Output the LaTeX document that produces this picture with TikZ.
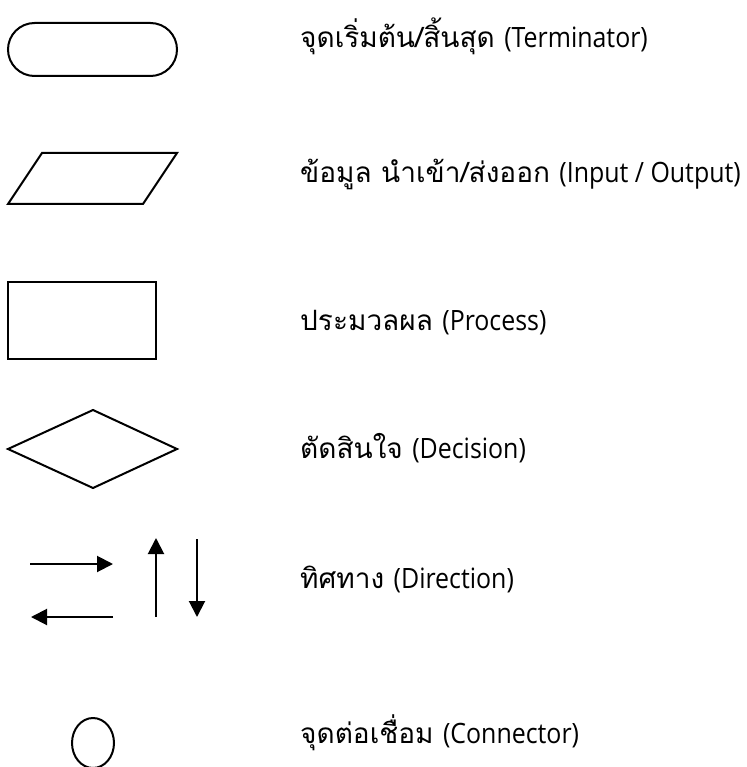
\documentclass[tikz,border=0pt]{standalone}
\usepackage{fontspec}
\newfontfamily\thaifont[Script=Thai]{Loma}
\newfontfamily\latfont[FakeStretch=0.89]{Open Sans}
\usetikzlibrary{arrows.meta}
\begin{document}
\begin{tikzpicture}[x=1pt,y=-1pt,
  shapeline/.style={line width=2pt,line join=miter},
  arrowline/.style={line width=2pt,-{Triangle[length=16pt,width=16pt]}},
  label/.style={anchor=base west,inner sep=0pt,font=\fontsize{28}{34}\selectfont}]
\useasboundingbox (0,0) rectangle (746,767);
% Terminator
\draw[shapeline,rounded corners=26.5pt] (8,23) rectangle (177,76);
% Input/Output
\draw[shapeline] (42,153) -- (177,153) -- (143,204) -- (8,204) -- cycle;
% Process
\draw[shapeline] (8,282) rectangle (156,359);
% Decision
\draw[shapeline] (93,410) -- (177,449) -- (93,488) -- (8,449) -- cycle;
% Direction arrows
\coordinate (r1) at (30,564);  \coordinate (r2) at (113,564);
\coordinate (l1) at (113,617); \coordinate (l2) at (31,617);
\coordinate (u1) at (156,617); \coordinate (u2) at (156,538);
\coordinate (d1) at (197,539); \coordinate (d2) at (197,617);
\draw[arrowline] (r1) -- (r2);
\draw[arrowline] (l1) -- (l2);
\draw[arrowline] (u1) -- (u2);
\draw[arrowline] (d1) -- (d2);
% Connector
\draw[shapeline] (93,743) ellipse [x radius=21, y radius=25];
% Labels
\node[label] (t1) at (300,48) {\thaifont จุดเริ่มต้น/สิ้นสุด \latfont(Terminator)};
\node[label] (t2) at (300,183) {\thaifont ข้อมูล นำเข้า/ส่งออก \latfont(Input / Output)};
\node[label] (t3) at (300,330) {\thaifont ประมวลผล \latfont(Process)};
\node[label] (t4) at (300,458) {\thaifont ตัดสินใจ \latfont(Decision)};
\node[label] (t5) at (300,588) {\thaifont ทิศทาง \latfont(Direction)};
\node[label] (t6) at (300,743) {\thaifont จุดต่อเชื่อม \latfont(Connector)};
\end{tikzpicture}
\end{document}
